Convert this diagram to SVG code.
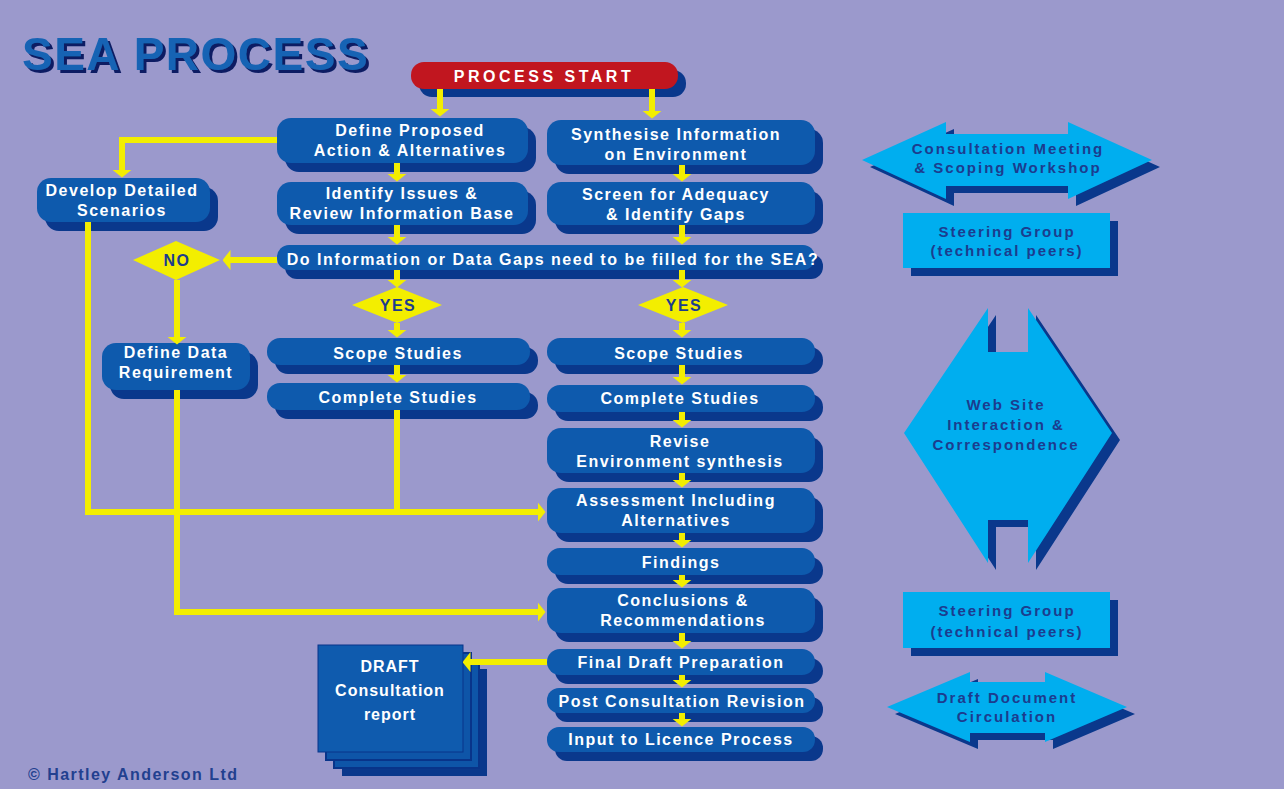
<svg xmlns="http://www.w3.org/2000/svg" width="1284" height="789" viewBox="0 0 1284 789">
  <defs>
    <style>
      .bg { fill: #9B99CC; }
      .sh { fill: #0A388C; }
      .nd { fill: #0E5AAD; }
      .start { fill: #C1161F; }
      .cy { fill: #00AEEF; }
      .dm { fill: #F3EE00; }
      .t { font-family: "Liberation Sans", Arial, sans-serif; font-weight: bold; font-size: 16px; fill: #FFFFFF; text-anchor: middle; letter-spacing: 1.5px; }
      .tc { font-family: "Liberation Sans", Arial, sans-serif; font-weight: bold; font-size: 15px; fill: #1C3C8E; text-anchor: middle; letter-spacing: 2px; }
      .td { font-family: "Liberation Sans", Arial, sans-serif; font-weight: bold; font-size: 16px; fill: #1C3C8E; text-anchor: middle; letter-spacing: 1.5px; }
      .conn { fill: none; stroke: #F3EE00; stroke-width: 6; stroke-linejoin: miter; }
    </style>
    <filter id="titleShadow" x="-5%" y="-20%" width="110%" height="140%">
      <feDropShadow dx="3" dy="3" stdDeviation="0.4" flood-color="#101E63" flood-opacity="1"/>
    </filter>
    <marker id="ah" viewBox="0 0 8 20" refX="0.5" refY="10" markerWidth="8" markerHeight="20" orient="auto" markerUnits="userSpaceOnUse">
      <path d="M0,0 L8,10 L0,20 Z" fill="#F3EE00"/>
    </marker>
  </defs>

  <rect class="bg" x="0" y="0" width="1284" height="789"/>

  <!-- title -->
  <g id="title">
    <text x="22" y="70" font-family="Liberation Sans, Arial, sans-serif" font-weight="bold" font-size="46" letter-spacing="1.5" fill="#1763B4" filter="url(#titleShadow)">SEA PROCESS</text>
  </g>

  <!-- start -->
  <g id="process-start">
    <rect class="sh" x="419" y="70" width="267" height="27" rx="13"/>
    <rect class="start" x="411" y="62" width="267" height="27" rx="13"/>
    <text class="t" x="544" y="82" font-size="17" style="letter-spacing:3.5px">PROCESS START</text>
  </g>

  <!-- left-hand column -->
  <g id="define-proposed">
    <rect class="sh" x="285" y="127" width="251" height="45" rx="14"/>
    <rect class="nd" x="277" y="118" width="251" height="45" rx="14"/>
    <text class="t" x="410" y="136">Define Proposed</text>
    <text class="t" x="410" y="156">Action &amp; Alternatives</text>
  </g>
  <g id="identify-issues">
    <rect class="sh" x="285" y="191" width="251" height="43" rx="14"/>
    <rect class="nd" x="277" y="182" width="251" height="43" rx="14"/>
    <text class="t" x="402" y="199">Identify Issues &amp;</text>
    <text class="t" x="402" y="219">Review Information Base</text>
  </g>
  <g id="develop-scenarios">
    <rect class="sh" x="45" y="187" width="173" height="44" rx="14"/>
    <rect class="nd" x="37" y="178" width="173" height="44" rx="14"/>
    <text class="t" x="122" y="196">Develop Detailed</text>
    <text class="t" x="122" y="216">Scenarios</text>
  </g>

  <!-- right-hand column -->
  <g id="synthesise">
    <rect class="sh" x="555" y="129" width="268" height="45" rx="14"/>
    <rect class="nd" x="547" y="120" width="268" height="45" rx="14"/>
    <text class="t" x="676" y="140">Synthesise Information</text>
    <text class="t" x="676" y="160">on Environment</text>
  </g>
  <g id="screen-adequacy">
    <rect class="sh" x="555" y="191" width="268" height="43" rx="14"/>
    <rect class="nd" x="547" y="182" width="268" height="43" rx="14"/>
    <text class="t" x="676" y="200">Screen for Adequacy</text>
    <text class="t" x="676" y="220">&amp; Identify Gaps</text>
  </g>

  <!-- gap question -->
  <g id="gaps-question">
    <rect class="sh" x="285" y="254" width="538" height="25" rx="12"/>
    <rect class="nd" x="277" y="245" width="538" height="25" rx="12"/>
    <text class="t" x="553" y="265">Do Information or Data Gaps need to be filled for the SEA?</text>
  </g>

  <!-- decisions -->
  <g id="no-decision">
    <polygon class="dm" points="133,260 176,241 220,260 176,280"/>
    <text class="td" x="177" y="266">NO</text>
  </g>
  <g id="yes-left">
    <polygon class="dm" points="352,305 397,287 442,305 397,323"/>
    <text class="td" x="398" y="311">YES</text>
  </g>
  <g id="yes-right">
    <polygon class="dm" points="638,305 683,287 728,305 683,323"/>
    <text class="td" x="684" y="311">YES</text>
  </g>

  <g id="define-data">
    <rect class="sh" x="110" y="352" width="148" height="47" rx="14"/>
    <rect class="nd" x="102" y="343" width="148" height="47" rx="14"/>
    <text class="t" x="176" y="358">Define Data</text>
    <text class="t" x="176" y="378">Requirement</text>
  </g>

  <g id="scope-left">
    <rect class="sh" x="275" y="347" width="263" height="27" rx="13"/>
    <rect class="nd" x="267" y="338" width="263" height="27" rx="13"/>
    <text class="t" x="398" y="359">Scope Studies</text>
  </g>
  <g id="complete-left">
    <rect class="sh" x="275" y="392" width="263" height="27" rx="13"/>
    <rect class="nd" x="267" y="383" width="263" height="27" rx="13"/>
    <text class="t" x="398" y="403">Complete Studies</text>
  </g>

  <g id="scope-right">
    <rect class="sh" x="555" y="347" width="268" height="27" rx="13"/>
    <rect class="nd" x="547" y="338" width="268" height="27" rx="13"/>
    <text class="t" x="679" y="359">Scope Studies</text>
  </g>
  <g id="complete-right">
    <rect class="sh" x="555" y="394" width="268" height="27" rx="13"/>
    <rect class="nd" x="547" y="385" width="268" height="27" rx="13"/>
    <text class="t" x="680" y="404">Complete Studies</text>
  </g>
  <g id="revise-synthesis">
    <rect class="sh" x="555" y="437" width="268" height="45" rx="14"/>
    <rect class="nd" x="547" y="428" width="268" height="45" rx="14"/>
    <text class="t" x="680" y="447">Revise</text>
    <text class="t" x="680" y="467">Environment synthesis</text>
  </g>
  <g id="assessment">
    <rect class="sh" x="555" y="497" width="268" height="45" rx="14"/>
    <rect class="nd" x="547" y="488" width="268" height="45" rx="14"/>
    <text class="t" x="676" y="506">Assessment Including</text>
    <text class="t" x="676" y="526">Alternatives</text>
  </g>
  <g id="findings">
    <rect class="sh" x="555" y="557" width="268" height="27" rx="13"/>
    <rect class="nd" x="547" y="548" width="268" height="27" rx="13"/>
    <text class="t" x="681" y="568">Findings</text>
  </g>
  <g id="conclusions">
    <rect class="sh" x="555" y="597" width="268" height="45" rx="14"/>
    <rect class="nd" x="547" y="588" width="268" height="45" rx="14"/>
    <text class="t" x="683" y="606">Conclusions &amp;</text>
    <text class="t" x="683" y="626">Recommendations</text>
  </g>
  <g id="final-draft">
    <rect class="sh" x="555" y="658" width="268" height="26" rx="13"/>
    <rect class="nd" x="547" y="649" width="268" height="26" rx="13"/>
    <text class="t" x="681" y="668">Final Draft Preparation</text>
  </g>
  <g id="post-consultation">
    <rect class="sh" x="555" y="697" width="268" height="25" rx="12"/>
    <rect class="nd" x="547" y="688" width="268" height="25" rx="12"/>
    <text class="t" x="682" y="707">Post Consultation Revision</text>
  </g>
  <g id="input-licence">
    <rect class="sh" x="555" y="736" width="268" height="25" rx="12"/>
    <rect class="nd" x="547" y="727" width="268" height="25" rx="12"/>
    <text class="t" x="681" y="745">Input to Licence Process</text>
  </g>

  <!-- draft report: stack of pages -->
  <g id="draft-report">
    <rect x="342" y="669" width="145" height="107" fill="#0A388C"/>
    <rect x="334" y="661" width="145" height="107" fill="#0E55A8" stroke="#08348A" stroke-width="2"/>
    <rect x="326" y="653" width="145" height="107" fill="#0E55A8" stroke="#08348A" stroke-width="2"/>
    <rect x="318" y="645" width="145" height="107" fill="#0F5BAE" stroke="#08348A" stroke-width="1"/>
    <text class="t" x="390" y="672" font-size="20" style="letter-spacing:1px">DRAFT</text>
    <text class="t" x="390" y="696" font-size="20" style="letter-spacing:1px">Consultation</text>
    <text class="t" x="390" y="720" font-size="20" style="letter-spacing:1px">report</text>
  </g>

  <!-- consultation side panel -->
  <g id="consultation-meeting">
    <polygon class="sh" points="870,167 954,129 954,141 1076,141 1076,129 1160,167 1076,206 1076,193 954,193 954,206"/>
    <polygon class="cy" points="862,160 946,122 946,134 1068,134 1068,122 1152,160 1068,199 1068,186 946,186 946,199"/>
    <text class="tc" x="1008" y="154">Consultation Meeting</text>
    <text class="tc" x="1008" y="173">&amp; Scoping Workshop</text>
  </g>
  <g id="steering-group-1">
    <rect class="sh" x="911" y="221" width="207" height="55"/>
    <rect class="cy" x="903" y="213" width="207" height="55"/>
    <text class="tc" x="1007" y="237">Steering Group</text>
    <text class="tc" x="1007" y="256">(technical peers)</text>
  </g>
  <g id="web-site">
    <polygon class="sh" points="912,440 996,315 996,359 1036,359 1036,315 1120,440 1036,570 1036,527 996,527 996,570"/>
    <polygon class="cy" points="904,433 988,308 988,352 1028,352 1028,308 1112,433 1028,563 1028,520 988,520 988,563"/>
    <text class="tc" x="1006" y="410">Web Site</text>
    <text class="tc" x="1006" y="430">Interaction &amp;</text>
    <text class="tc" x="1006" y="450">Correspondence</text>
  </g>
  <g id="steering-group-2">
    <rect class="sh" x="911" y="600" width="207" height="56"/>
    <rect class="cy" x="903" y="592" width="207" height="56"/>
    <text class="tc" x="1007" y="616">Steering Group</text>
    <text class="tc" x="1007" y="637">(technical peers)</text>
  </g>
  <g id="draft-circulation">
    <polygon class="sh" points="895,714 978,679 978,689 1053,689 1053,679 1135,714 1053,749 1053,740 978,740 978,749"/>
    <polygon class="cy" points="887,707 970,672 970,682 1045,682 1045,672 1127,707 1045,742 1045,733 970,733 970,742"/>
    <text class="tc" x="1007" y="703">Draft Document</text>
    <text class="tc" x="1007" y="722">Circulation</text>
  </g>

  <!-- connectors -->
  <g id="connectors">
    <path class="conn" d="M440,89 V109" marker-end="url(#ah)"/>
    <path class="conn" d="M652,89 V111" marker-end="url(#ah)"/>
    <path class="conn" d="M397,163 V174" marker-end="url(#ah)"/>
    <path class="conn" d="M397,225 V237" marker-end="url(#ah)"/>
    <path class="conn" d="M682,165 V174" marker-end="url(#ah)"/>
    <path class="conn" d="M682,225 V237" marker-end="url(#ah)"/>
    <path class="conn" d="M397,270 V280" marker-end="url(#ah)"/>
    <path class="conn" d="M682,270 V280" marker-end="url(#ah)"/>
    <path class="conn" d="M397,323 V330" marker-end="url(#ah)"/>
    <path class="conn" d="M682,323 V330" marker-end="url(#ah)"/>
    <path class="conn" d="M397,365 V375" marker-end="url(#ah)"/>
    <path class="conn" d="M682,365 V377" marker-end="url(#ah)"/>
    <path class="conn" d="M682,412 V420" marker-end="url(#ah)"/>
    <path class="conn" d="M682,473 V480" marker-end="url(#ah)"/>
    <path class="conn" d="M682,533 V540" marker-end="url(#ah)"/>
    <path class="conn" d="M682,575 V580" marker-end="url(#ah)"/>
    <path class="conn" d="M682,633 V641" marker-end="url(#ah)"/>
    <path class="conn" d="M682,675 V680" marker-end="url(#ah)"/>
    <path class="conn" d="M682,713 V719" marker-end="url(#ah)"/>
    <path class="conn" d="M277,140 H122 V170" marker-end="url(#ah)"/>
    <path class="conn" d="M277,260 H230" marker-end="url(#ah)"/>
    <path class="conn" d="M177,280 V337" marker-end="url(#ah)"/>
    <path class="conn" d="M88,222 V512 H538" marker-end="url(#ah)"/>
    <path class="conn" d="M397,410 V512"/>
    <path class="conn" d="M177,390 V612 H538" marker-end="url(#ah)"/>
    <path class="conn" d="M547,662 H470" marker-end="url(#ah)"/>
  </g>

  <text x="28" y="780" font-family="Liberation Sans, Arial, sans-serif" font-weight="bold" font-size="16" fill="#22408F" textLength="209" lengthAdjust="spacing">© Hartley Anderson Ltd</text>
</svg>
